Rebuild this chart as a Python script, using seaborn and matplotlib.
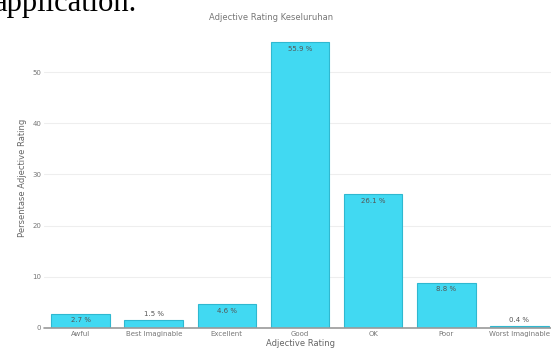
import matplotlib
matplotlib.use("Agg")
import matplotlib.pyplot as plt
import seaborn as sns
import pandas as pd

categories = ["Awful", "Best Imaginable", "Excellent", "Good", "OK", "Poor", "Worst Imaginable"]
percentages = [2.7, 1.5, 4.6, 55.9, 26.1, 8.8, 0.4]
y_ticks = [0, 10, 20, 30, 40, 50]

df = pd.DataFrame({"rating": categories, "pct": percentages})

sns.set_theme(style="white")
plt.rcParams["font.family"] = ["DejaVu Sans"]

W, H = 551, 350
fig = plt.figure(figsize=(W / 100, H / 100), dpi=100)
fig.patch.set_facecolor("white")

x0, x1 = 44, 556
y_top, y_bot = 27, 327.8
ax = fig.add_axes([x0 / W, 1 - y_bot / H, (x1 - x0) / W, (y_bot - y_top) / H])

sns.barplot(data=df, x="rating", y="pct", ax=ax, color="#41d9f2",
            edgecolor="#2fb8d0", linewidth=0.8, width=0.8, saturation=1)

ax.set_ylim(0, 58.84)
ax.set_xlim(-0.5, len(categories) - 0.5)
ax.set_yticks(y_ticks)
ax.set_yticklabels([str(t) for t in y_ticks])
ax.yaxis.grid(True, color="#eeeeee", linewidth=0.8)
ax.set_axisbelow(True)
for s in ax.spines.values():
    s.set_visible(False)
ax.axhline(0, color="#9a9a9a", linewidth=1.2, zorder=5, clip_on=False)

ax.tick_params(axis="both", length=0, labelsize=5, labelcolor="#777777", pad=2)
ax.set_xlabel("Adjective Rating", fontsize=6, color="#666666", labelpad=2)
ax.set_ylabel("Persentase Adjective Rating", fontsize=6, color="#666666", labelpad=4)

# value labels: inside near the top for taller bars, above for short ones
for i, v in enumerate(percentages):
    offset = -6.5 if v >= 2.0 else 6
    ax.annotate(f"{v} %", (i, v), xytext=(0, offset), textcoords="offset pixels",
                ha="center", va="center", fontsize=5, color="#555555")

fig.text(271 / W, 1 - 17 / H, "Adjective Rating Keseluruhan", ha="center", va="center",
         fontsize=6, color="#777777")

fig.text(-6 / W, 1 - 10.5 / H, "application.", ha="left", va="baseline",
         fontsize=22, color="black", family=["Liberation Serif"])

fig.savefig("out.png", dpi=100, facecolor="white")
